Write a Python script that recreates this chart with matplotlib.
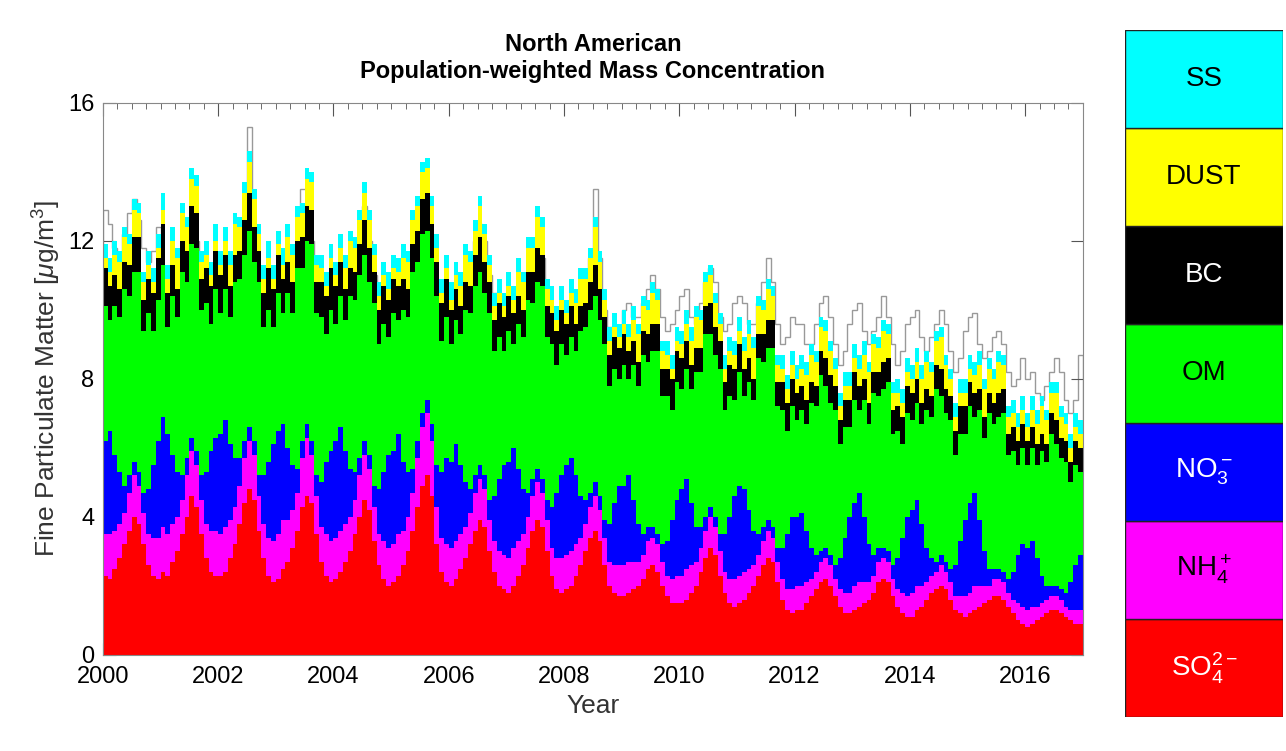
import matplotlib
matplotlib.use("Agg")
import matplotlib.pyplot as plt
import numpy as np
from matplotlib.patches import Rectangle

plt.rcParams['font.family'] = ['Liberation Sans', 'DejaVu Sans']
plt.rcParams['mathtext.fontset'] = 'custom'
plt.rcParams['mathtext.rm'] = 'Liberation Sans'
plt.rcParams['mathtext.it'] = 'Liberation Sans:italic'

so4 = [
 2.3,2.2,2.5,2.8,3.2,3.6,4.0,3.8,3.2,2.6,2.3,2.2,
 2.4,2.3,2.7,3.0,3.5,4.0,4.6,4.3,3.5,2.8,2.4,2.3,
 2.3,2.4,2.8,3.2,3.8,4.4,4.8,4.5,3.6,2.8,2.3,2.1,
 2.2,2.5,2.7,3.1,3.6,4.3,4.6,4.4,3.5,2.7,2.3,2.1,
 2.2,2.4,2.7,3.0,3.5,4.0,4.5,4.2,3.3,2.6,2.2,2.0,
 2.1,2.3,2.6,3.0,3.6,4.3,4.9,5.2,4.6,3.2,2.4,2.1,
 2.0,2.2,2.5,2.8,3.2,3.6,3.9,3.7,3.0,2.4,2.0,1.9,
 1.8,2.0,2.3,2.6,3.1,3.6,3.9,3.7,3.0,2.3,1.9,1.8,
 1.9,2.0,2.3,2.6,3.0,3.4,3.6,3.3,2.6,2.0,1.8,1.7,
 1.7,1.8,1.9,2.0,2.2,2.5,2.6,2.4,2.0,1.7,1.5,1.5,
 1.5,1.6,1.8,2.0,2.4,2.8,3.1,2.9,2.3,1.8,1.5,1.4,
 1.5,1.6,1.8,2.0,2.3,2.6,2.8,2.7,2.1,1.6,1.3,1.2,
 1.3,1.3,1.5,1.7,1.9,2.1,2.2,2.0,1.7,1.4,1.2,1.2,
 1.3,1.4,1.5,1.6,1.8,2.1,2.2,2.1,1.7,1.4,1.2,1.1,
 1.1,1.3,1.4,1.6,1.8,1.9,2.0,1.9,1.6,1.3,1.2,1.1,
 1.2,1.3,1.4,1.5,1.6,1.7,1.7,1.6,1.4,1.2,1.0,0.9,
 0.8,0.9,1.0,1.1,1.2,1.3,1.3,1.2,1.1,1.0,0.9,0.9]

nh4 = [
 1.2,1.3,1.1,1.0,0.9,1.1,1.2,1.1,0.9,0.9,1.1,1.2,
 1.3,1.2,1.1,1.0,1.0,1.2,1.3,1.2,1.0,1.0,1.2,1.3,
 1.2,1.3,1.1,1.1,1.1,1.3,1.4,1.3,1.0,1.0,1.1,1.2,
 1.3,1.4,1.2,1.1,1.1,1.4,1.7,1.4,1.1,1.0,1.2,1.2,
 1.2,1.2,1.1,1.0,1.0,1.2,1.3,1.2,1.0,0.9,1.1,1.1,
 1.1,1.2,1.0,1.0,1.1,1.4,1.7,1.8,1.6,1.1,1.0,1.1,
 1.1,1.1,1.0,0.9,0.9,1.1,1.2,1.1,0.9,0.9,1.0,1.0,
 1.0,1.1,1.0,0.9,0.9,1.0,1.1,1.0,0.9,0.8,0.9,1.0,
 1.0,1.0,0.9,0.8,0.8,0.9,1.0,0.9,0.8,0.7,0.8,0.9,
 0.9,0.9,0.8,0.7,0.7,0.8,0.8,0.8,0.7,0.6,0.7,0.8,
 0.8,0.9,0.8,0.7,0.7,0.8,0.9,0.8,0.7,0.6,0.7,0.8,
 0.8,0.8,0.7,0.6,0.6,0.7,0.8,0.7,0.6,0.6,0.6,0.7,
 0.7,0.7,0.6,0.5,0.5,0.6,0.6,0.6,0.5,0.5,0.6,0.6,
 0.7,0.7,0.6,0.5,0.5,0.6,0.6,0.6,0.5,0.5,0.6,0.6,
 0.7,0.7,0.6,0.5,0.5,0.5,0.6,0.5,0.5,0.4,0.5,0.6,
 0.6,0.7,0.6,0.5,0.4,0.5,0.5,0.5,0.4,0.4,0.5,0.5,
 0.5,0.5,0.4,0.4,0.4,0.4,0.4,0.4,0.3,0.3,0.4,0.4]

no3 = [
 2.7,3.0,2.2,1.5,0.8,0.5,0.4,0.4,0.6,1.3,2.1,2.8,
 3.2,2.9,2.0,1.3,0.7,0.5,0.4,0.4,0.7,1.5,2.3,2.7,
 2.9,3.1,2.2,1.4,0.8,0.5,0.4,0.4,0.6,1.4,2.2,2.8,
 3.0,2.8,2.1,1.3,0.7,0.5,0.4,0.4,0.6,1.3,2.1,2.6,
 2.8,3.0,2.1,1.4,0.8,0.5,0.4,0.4,0.6,1.3,2.0,2.7,
 2.7,2.9,2.0,1.3,0.7,0.5,0.4,0.4,0.5,1.2,1.9,2.5,
 2.5,2.8,2.0,1.3,0.7,0.5,0.4,0.4,0.6,1.3,2.1,2.6,
 2.8,2.9,2.1,1.3,0.7,0.5,0.4,0.4,0.6,1.2,1.9,2.4,
 2.6,2.7,2.0,1.2,0.7,0.4,0.4,0.4,0.5,1.1,1.8,2.3,
 2.3,2.5,1.8,1.1,0.6,0.4,0.3,0.3,0.5,1.0,1.7,2.2,
 2.5,2.6,1.8,1.0,0.6,0.4,0.3,0.3,0.5,1.1,1.8,2.4,
 2.6,2.4,1.7,1.0,0.6,0.4,0.3,0.3,0.4,0.9,1.6,2.1,
 2.0,2.1,1.5,0.9,0.5,0.3,0.3,0.3,0.4,0.9,1.6,2.2,
 2.4,2.6,1.9,1.1,0.6,0.4,0.3,0.3,0.4,0.9,1.6,2.3,
 2.4,2.5,1.8,1.0,0.5,0.3,0.3,0.3,0.4,0.9,1.6,2.2,
 2.6,2.7,1.9,1.0,0.5,0.3,0.3,0.3,0.4,0.8,1.4,1.8,
 1.8,1.9,1.4,0.8,0.4,0.3,0.3,0.3,0.4,0.8,1.3,1.6]

om = [
 3.9,3.2,4.3,4.5,5.7,5.2,5.5,5.8,4.7,5.1,3.9,4.1,
 4.4,3.1,4.6,4.5,5.9,5.1,5.6,5.9,4.8,4.9,3.7,4.3,
 3.5,3.8,3.7,5.1,5.2,5.4,5.7,5.2,5.6,4.3,4.4,3.4,
 4.0,3.2,4.5,4.4,5.8,5.0,5.3,5.7,4.7,4.8,3.7,4.1,
 3.4,3.8,3.8,5.0,5.0,5.3,5.4,5.0,5.3,4.2,4.3,3.4,
 4.0,3.3,4.4,4.5,5.7,5.2,5.2,4.9,4.8,4.9,3.8,4.1,
 3.4,3.6,3.8,5.0,5.1,5.5,5.6,5.3,5.4,4.2,4.1,3.3,
 3.8,3.0,4.2,4.4,5.6,5.1,5.4,5.6,4.7,4.7,3.7,3.8,
 3.2,3.5,3.6,4.8,5.0,5.3,5.4,5.1,5.1,4.0,3.9,3.1,
 3.5,2.8,3.9,4.0,5.2,4.8,5.1,5.3,4.3,4.2,3.2,3.4,
 2.9,3.2,3.3,4.5,4.5,5.3,5.0,4.7,4.8,3.6,3.5,2.8,
 3.3,2.7,3.7,3.8,5.1,4.8,5.0,5.2,4.1,4.0,3.0,3.2,
 2.8,3.0,3.1,4.2,4.3,5.1,4.7,4.4,4.5,3.3,3.2,2.6,
 3.0,2.4,3.4,3.5,4.7,4.4,4.6,4.9,3.8,3.7,2.7,3.0,
 2.6,2.8,2.9,4.0,4.1,5.0,4.6,4.3,4.3,3.2,3.1,2.5,
 2.8,2.2,3.2,3.3,4.5,4.2,4.4,4.6,3.6,3.5,2.6,2.8,
 2.4,2.7,2.7,3.6,3.6,4.4,4.1,3.8,3.8,2.9,2.9,2.4]

bc = [
 1.1,1.0,0.9,0.8,0.8,0.9,1.0,1.0,0.9,1.0,1.1,1.2,
 1.2,1.0,0.9,0.8,0.9,0.9,1.1,1.0,0.9,1.0,1.1,1.1,
 1.1,1.0,0.9,0.8,0.8,1.0,1.1,1.0,0.9,1.0,1.2,1.1,
 1.1,1.0,0.9,0.9,0.8,0.9,1.0,1.0,0.9,1.0,1.1,1.2,
 1.1,1.0,0.9,0.8,0.8,0.9,1.0,1.0,0.9,1.0,1.1,1.1,
 1.0,1.0,0.9,0.8,0.8,0.9,1.0,1.1,1.0,1.0,1.1,1.1,
 1.0,0.9,0.8,0.8,0.8,0.9,1.0,0.9,0.9,0.9,1.0,1.0,
 1.0,0.9,0.8,0.8,0.8,0.9,1.0,0.9,0.9,0.9,1.0,1.0,
 0.9,0.9,0.8,0.7,0.7,0.8,0.9,0.9,0.8,0.9,0.9,0.9,
 0.9,0.8,0.7,0.7,0.7,0.8,0.8,0.8,0.8,0.8,0.9,0.9,
 0.9,0.8,0.7,0.7,0.7,0.8,0.9,0.8,0.8,0.8,0.9,0.9,
 0.8,0.8,0.7,0.6,0.7,0.8,0.8,0.8,0.7,0.8,0.8,0.8,
 0.8,0.7,0.7,0.6,0.6,0.7,0.8,0.8,0.7,0.7,0.8,0.8,
 0.8,0.7,0.6,0.6,0.6,0.7,0.8,0.7,0.7,0.7,0.8,0.8,
 0.8,0.7,0.6,0.6,0.6,0.7,0.8,0.7,0.7,0.7,0.8,0.8,
 0.7,0.7,0.6,0.6,0.6,0.6,0.7,0.7,0.6,0.7,0.7,0.7,
 0.7,0.6,0.6,0.5,0.5,0.6,0.7,0.6,0.6,0.6,0.7,0.7]

dust = [
 0.3,0.4,0.6,0.8,0.7,0.6,0.8,0.7,0.5,0.4,0.3,0.3,
 0.4,0.4,0.7,0.9,0.8,0.7,0.8,0.8,0.5,0.4,0.3,0.3,
 0.3,0.4,0.6,0.9,0.7,0.8,0.9,0.8,0.5,0.4,0.3,0.3,
 0.3,0.4,0.7,0.8,0.7,0.7,0.8,0.8,0.5,0.4,0.3,0.3,
 0.3,0.4,0.6,0.8,0.7,0.7,0.8,0.8,0.5,0.4,0.3,0.3,
 0.3,0.4,0.6,0.8,0.7,0.7,0.8,0.7,0.5,0.4,0.3,0.3,
 0.3,0.4,0.6,0.8,0.7,0.7,0.9,0.8,0.5,0.4,0.3,0.3,
 0.3,0.4,0.7,0.8,0.7,0.7,0.9,0.8,0.5,0.4,0.3,0.3,
 0.3,0.4,0.6,0.8,0.7,0.7,1.1,0.8,0.5,0.4,0.3,0.3,
 0.3,0.4,0.6,0.8,0.7,0.7,0.9,0.7,0.5,0.4,0.3,0.3,
 0.4,0.5,0.7,0.9,0.8,0.7,0.8,0.7,0.5,0.4,0.4,0.4,
 0.4,0.5,0.7,0.9,0.8,0.7,0.9,0.7,0.5,0.4,0.4,0.4,
 0.4,0.5,0.7,0.8,0.7,0.7,0.8,0.7,0.5,0.4,0.4,0.4,
 0.4,0.5,0.7,0.9,0.8,0.7,0.9,0.7,0.5,0.4,0.4,0.4,
 0.4,0.5,0.7,0.8,0.7,0.7,0.9,0.7,0.5,0.4,0.4,0.4,
 0.4,0.5,0.7,0.8,0.7,0.7,0.9,0.7,0.5,0.4,0.4,0.4,
 0.4,0.5,0.6,0.8,0.7,0.6,0.8,0.6,0.5,0.4,0.4,0.4]

ss = [
 0.4,0.4,0.4,0.3,0.3,0.3,0.3,0.3,0.3,0.4,0.4,0.4,
 0.5,0.4,0.4,0.3,0.3,0.3,0.3,0.3,0.3,0.4,0.4,0.5,
 0.4,0.4,0.4,0.3,0.3,0.3,0.3,0.3,0.3,0.4,0.5,0.4,
 0.4,0.5,0.4,0.3,0.3,0.3,0.3,0.3,0.3,0.4,0.4,0.4,
 0.4,0.4,0.4,0.3,0.3,0.3,0.3,0.3,0.3,0.4,0.4,0.5,
 0.4,0.4,0.4,0.3,0.3,0.3,0.3,0.3,0.3,0.4,0.4,0.4,
 0.5,0.4,0.4,0.3,0.3,0.3,0.3,0.3,0.3,0.4,0.4,0.4,
 0.4,0.4,0.4,0.3,0.3,0.3,0.3,0.3,0.3,0.4,0.4,0.4,
 0.4,0.4,0.4,0.3,0.3,0.3,0.3,0.3,0.3,0.4,0.4,0.4,
 0.4,0.4,0.4,0.3,0.3,0.3,0.3,0.3,0.3,0.4,0.4,0.4,
 0.4,0.4,0.4,0.3,0.3,0.3,0.3,0.3,0.3,0.4,0.4,0.4,
 0.4,0.4,0.4,0.3,0.3,0.3,0.3,0.3,0.3,0.4,0.4,0.4,
 0.4,0.4,0.4,0.3,0.3,0.3,0.3,0.3,0.3,0.4,0.4,0.4,
 0.4,0.4,0.4,0.3,0.3,0.3,0.3,0.3,0.3,0.4,0.4,0.4,
 0.4,0.4,0.4,0.3,0.3,0.3,0.3,0.3,0.3,0.4,0.4,0.4,
 0.4,0.4,0.4,0.3,0.3,0.3,0.3,0.3,0.3,0.4,0.4,0.4,
 0.4,0.4,0.4,0.3,0.3,0.3,0.3,0.3,0.3,0.4,0.4,0.4]

observed = [
 12.9,12.5,11.8,11.6,12.2,12.8,13.2,12.6,11.8,11.4,11.7,12.4,
 11.0,10.5,10.5,11.0,11.5,12.0,12.5,12.0,11.0,10.5,10.5,11.0,
 10.5,10.5,10.5,11.0,11.5,12.0,15.3,12.0,11.0,10.5,10.5,10.5,
 10.5,10.5,10.5,11.0,11.5,13.5,13.5,12.0,11.0,10.5,10.5,10.5,
 10.5,10.5,10.5,11.0,11.5,12.0,13.0,12.0,11.0,10.5,10.5,10.5,
 10.5,10.5,10.5,11.0,11.5,12.0,12.5,12.5,11.5,10.5,10.5,10.5,
 10.5,10.5,10.5,11.0,11.5,12.0,12.5,12.0,11.0,10.5,10.0,10.0,
 10.0,10.0,10.0,10.5,11.0,11.5,12.0,11.5,10.5,10.0,10.0,10.0,
 10.0,10.0,10.0,10.5,11.0,11.5,13.5,11.5,10.0,9.5,9.5,9.5,
 10.0,10.2,9.8,9.8,10.2,10.6,11.0,10.6,9.8,9.4,9.6,10.0,
 10.4,10.6,9.8,9.6,10.2,10.8,11.2,10.8,9.8,9.4,9.6,10.2,
 10.4,10.2,9.6,9.6,10.2,10.8,11.5,10.8,9.6,9.0,9.2,9.8,
 9.6,9.6,9.0,9.0,9.6,10.2,10.4,9.8,9.0,8.4,8.8,9.6,
 10.0,10.2,9.4,9.0,9.4,9.8,10.4,9.8,9.0,8.4,8.8,9.6,
 9.8,10.0,9.2,8.8,9.2,9.6,10.0,9.6,8.8,8.2,8.6,9.4,
 9.8,9.9,9.0,8.6,8.8,9.2,9.4,9.0,8.2,7.8,8.0,8.6,
 8.0,8.2,7.6,7.4,7.8,8.2,8.6,8.2,7.4,7.0,7.4,8.7]

species = ['SO$_4^{2-}$', 'NH$_4^+$', 'NO$_3^-$', 'OM', 'BC', 'DUST', 'SS']
series = [so4, nh4, no3, om, bc, dust, ss]
colors = ['#FF0000', '#FF00FF', '#0000FF', '#00FF00', '#000000', '#FFFF00', '#00FFFF']
txtcol = ['white', 'black', 'white', 'black', 'white', 'black', 'black']

n = len(so4)
x = 2000 + np.arange(n) / 12.0

fig = plt.figure(figsize=(12.86, 7.51), dpi=100)
ax = fig.add_axes([0.080, 0.128, 0.762, 0.735])

xe = 2000 + np.arange(n + 1) / 12.0
obs_arr = np.array(observed)
ax.stairs(obs_arr, xe, color='#999999', linewidth=1.0, zorder=1)

bottom = np.zeros(n)
for vals, c in zip(series, colors):
    v = np.array(vals)
    ax.bar(x, v, width=1/12, bottom=bottom, align='edge', color=c, linewidth=0, zorder=2)
    bottom = bottom + v

ax.set_xlim(2000, 2017)
ax.set_ylim(0, 16)
ax.set_xticks(range(2000, 2017, 2))
ax.set_xticks(np.arange(2000, 2017.01, 0.25), minor=True)
ax.set_yticks([0, 4, 8, 12, 16])
ax.tick_params(axis='both', which='both', direction='in', top=True, right=True, labelsize=17, color='#555555')
ax.tick_params(axis='x', which='major', length=9, pad=8)
ax.tick_params(axis='x', which='minor', length=4)
ax.tick_params(axis='y', which='major', length=9, pad=6)
for s in ax.spines.values():
    s.set_color('#888888')
ax.set_xlabel('Year', fontsize=19, color='#333333')
ax.set_ylabel('Fine Particulate Matter [$\\mu$g/m$^3$]', fontsize=19, color='#333333')
ax.set_title('North American\nPopulation-weighted Mass Concentration', fontsize=17, fontweight='bold', pad=18)

lax = fig.add_axes([1125/1286, 1 - 717/751, 158/1286, 687/751])
lax.set_xlim(0, 1)
lax.set_ylim(0, 7)
lax.axis('off')
for i, (lab, c, tc) in enumerate(zip(species, colors, txtcol)):
    lax.add_patch(Rectangle((0, i), 1, 1, facecolor=c, edgecolor='#222222', linewidth=1.0))
    lax.text(0.5, i + 0.5, lab, ha='center', va='center', fontsize=20, color=tc)

fig.savefig('out.png', dpi=100)
